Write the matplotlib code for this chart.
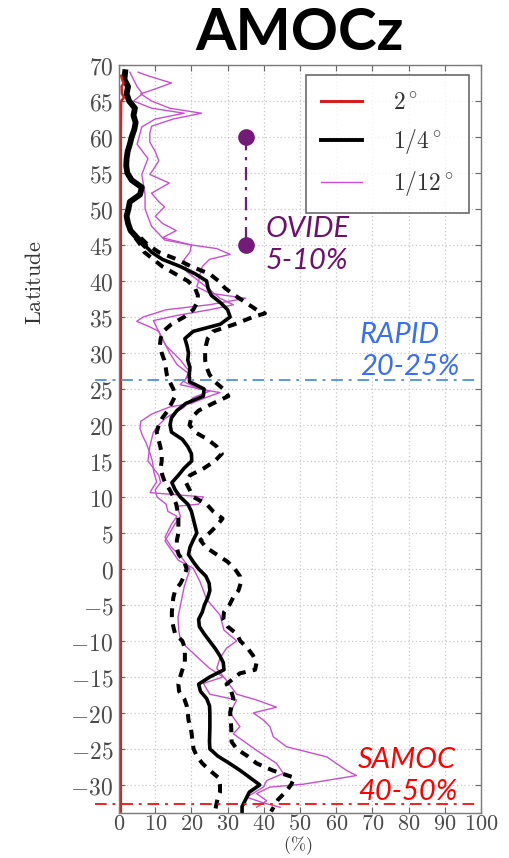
import matplotlib
matplotlib.use("Agg")
import matplotlib.pyplot as plt
from matplotlib.ticker import FuncFormatter

plt.rcParams['mathtext.fontset'] = 'cm'

# ---------------- data ----------------
# 2 degree model (red)
lat_2deg = [68.5, 67.8, 67.5, 67.0, 66.0, 65.5, 65.0, 60.0, 40.0, 0.0, -20.0, -33.7]
val_2deg = [0.6, 1.0, 1.3, 0.7, 0.8, 1.4, 0.6, 0.5, 0.5, 0.5, 0.5, 0.5]

# 1/4 degree model, mean (black solid)
lat_q = [69, 68, 67, 66, 65, 64, 63, 62, 61, 60, 59, 58, 57, 56, 55, 54, 53, 52, 51, 50,
         49, 48, 47, 46, 45, 44, 43, 42, 41, 40, 39, 38, 37, 36, 35, 34, 33, 32, 31, 30,
         29, 28, 27, 26, 25, 24, 23, 22, 21, 20, 19, 18, 17, 16, 15, 14, 13, 12, 11, 10,
         9, 8, 7, 6, 5, 4, 3, 2, 1, 0, -1, -2, -3, -4, -5, -6, -7, -8, -9, -10,
         -11, -12, -13, -14, -15, -16, -17, -18, -19, -20, -22, -24, -25, -26, -27, -28,
         -29, -30, -31, -32, -33, -33.7]
val_q = [1.7, 1.5, 2.5, 2.1, 2.8, 4.4, 4.0, 4.6, 4.2, 3.5, 3.0, 2.4, 2.1, 2.0, 2.3, 3.5, 6.3, 5.8, 3.0, 2.6,
         2.1, 2.5, 3.2, 5.0, 7.0, 9.0, 12.0, 17.0, 21.0, 24.2, 24.6, 25.5, 28.0, 30.0, 30.7, 28.0, 20.5, 18.2, 18.8, 19.2,
         19.0, 19.6, 19.4, 19.5, 23.5, 23.3, 18.5, 16.0, 14.5, 14.1, 14.5, 17.5, 19.0, 20.0, 20.1, 18.0, 16.4, 14.6, 15.5, 16.9,
         19.0, 20.0, 20.5, 21.0, 21.5, 20.5, 19.6, 19.2, 20.5, 22.0, 24.0, 24.9, 25.1, 24.5, 23.6, 23.0, 22.0, 22.2, 23.5, 25.0,
         26.5, 27.8, 28.8, 29.0, 25.1, 22.0, 22.5, 24.2, 25.0, 25.1, 25.1, 25.0, 25.1, 27.3, 30.5, 33.5,
         36.2, 38.9, 36.0, 35.0, 34.0, 34.0]

# 1/4 degree, upper spread (black dashed)
lat_qhi = [46, 45, 44, 43, 42, 41, 40, 39, 38, 37, 36, 35.5, 35, 34, 33, 32, 31, 30, 29, 28,
           27, 26, 25, 24, 23, 22, 21, 20, 19, 18, 17, 16, 15, 14, 13, 12, 11, 10, 9, 8,
           7, 6, 5, 4, 3, 2, 1, 0, -1, -2, -3, -4, -5, -6, -7, -8, -9, -10, -11, -12,
           -13, -14, -14.5, -16, -17, -18, -19, -20, -22, -24, -25, -26, -27, -28, -29, -30,
           -31, -32, -33.7]
val_qhi = [6, 8, 11, 16, 20, 25, 27.5, 29.3, 32, 35, 38, 40.3, 37, 32, 26, 24.5, 24.0, 23.8, 23.8, 24.2,
           25, 26.5, 28.8, 30.2, 26, 22, 20, 19.5, 21, 24.5, 27, 28.4, 26.5, 23.5, 19.6, 18.5, 19.5, 20.5, 24.2, 26,
           28.6, 27, 25, 22.5, 24, 27, 30, 32, 33.4, 33.6, 33, 31.5, 30.5, 29, 28.8, 30, 32.5, 33.5, 35.5, 37,
           38, 37.6, 33.4, 29.7, 31, 31.6, 31.1, 30.7, 31, 31.1, 32.5, 35.5, 38, 42.5, 48.5, 47.5,
           46, 44, 42]

# 1/4 degree, lower spread (black dashed)
lat_qlo = [46, 45, 44, 43, 42, 41, 40, 39, 38, 37, 36, 35, 34, 33, 32, 31, 30, 29, 28, 27,
           26, 25, 24, 23, 22, 21, 20, 19, 18, 17, 16, 15, 14, 13, 12, 11, 10, 9, 8, 7,
           6, 5, 4, 3, 2, 1, 0, -1, -2, -3, -4, -5, -6, -7, -8, -9, -10, -11, -12, -13,
           -14, -15, -16, -17, -18, -19, -20, -21, -22, -23, -24, -25, -26, -27, -28, -29,
           -30, -31, -32, -33.7]
val_qlo = [4.5, 6, 7, 9.5, 12, 15.5, 19, 21, 21.8, 21.6, 20.5, 18, 14.5, 12.2, 11.5, 11.3, 11.8, 12.5, 12.9, 13.2,
           14, 15, 15.5, 14.5, 13.5, 12, 11, 10.4, 10.9, 11.4, 11.8, 11.8, 11.5, 12, 12.7, 14, 15, 15.8, 16.2, 16.4,
           16.4, 16.4, 16, 15.9, 16.5, 18, 18.7, 18, 17, 15.5, 15, 14.8, 14.6, 14.6, 15, 15.5, 17.5, 18.2, 18.2, 18.2,
           17.5, 16.9, 16.4, 16.6, 18, 18.7, 19, 19.2, 19.8, 20.1, 20.3, 20.6, 21.5, 23, 25.1, 27.5,
           27.9, 27.9, 27.2, 26.5]

# 1/12 degree model, member A (magenta)
lat_tA = [69, 68.5, 67.5, 66.5, 66, 65, 64, 63.3, 62.5, 61.5, 60.5, 59.3, 58, 56.7, 55.5, 54.8, 53.6, 52.2, 51, 50.3,
          49, 48, 47, 46, 45, 44.5, 43.7, 43, 42, 41, 40, 39.2, 38.3, 37.6, 36.7, 36, 35, 34.4, 33.6, 33,
          32, 31, 30, 29, 28, 27.5, 26.5, 26, 25, 24.5, 24, 23, 22.5, 21.5, 20.5, 19.5, 18.5, 17.5, 16, 15,
          13.5, 12.1, 11, 10.6, 10, 9, 8.7, 7.3, 6.2, 3.9, 1.2, 0.1, -1.8, -4.2, -6.4, -8.5, -10, -11, -12.4, -13.8,
          -15.5, -17.4, -18.2, -19.2, -20, -21, -21.9, -23.3, -24.7, -26.1, -28, -28.7, -29.9, -30.3, -31.2, -32.2, -33.1]
val_tA = [5.3, 8, 14.5, 9, 6, 9, 14, 22.8, 15, 9, 8.5, 8.5, 10, 11, 9.5, 8.5, 13.9, 9, 11, 12.6,
          10, 12, 15.8, 12, 20, 27, 30.7, 25, 23, 22.4, 22, 21.5, 25.1, 35, 25, 13, 6.7, 4.9, 8.6, 11,
          12, 13, 15, 17, 18.5, 19.5, 18.5, 18, 22, 27.9, 25, 20, 14, 9, 6, 5.8, 6.5, 7.5, 8.6, 9.2,
          9.6, 10.4, 9, 8.6, 23.3, 22, 16, 17, 15.4, 12.7, 16.4, 20.5, 22.4, 24.2, 27.9, 29, 32.5, 29.7, 27.9, 27,
          29.7, 32.5, 38, 43.5, 37.1, 39.9, 41.7, 42.6, 46.3, 57.4, 62.9, 65.6, 50.9, 41.7, 38, 40.8, 38]

# 1/12 degree model, member B (magenta)
lat_tB = [69, 67, 66, 65, 64, 63.3, 62.5, 61.4, 59, 57, 54.8, 52, 50, 47.6, 45.7, 45, 44, 43, 41.3, 39.5,
          37.6, 36.7, 36, 35.2, 34.5, 32.6, 30, 28.4, 27, 25.6, 24.7, 23.8, 22.4, 21, 20, 19, 18, 17, 15, 14,
          13, 12, 11, 10, 9, 8, 7.3, 6.2, 4.4, 3, 1.6, 0, -2.5, -5, -6.7, -8.5, -10, -11, -12.4, -13.8,
          -15, -15.9, -17.4, -18.2, -20, -21.9, -22.9, -25.2, -27, -28.4, -29.4, -30.3, -31.7, -32.5, -33.1]
val_tB = [3, 5, 6.5, 4, 9, 18, 10, 6.3, 5, 8, 6.3, 7.2, 7.2, 9, 12.6, 20, 19.6, 18, 18.7, 23.3,
          27.9, 31.6, 25, 15.9, 9.5, 11.3, 14, 16, 19.6, 16.9, 25, 20.5, 17.8, 13, 11, 9.5, 9, 8.5, 8, 9.5,
          11, 11.5, 10, 10.5, 13, 13.5, 16, 14.5, 12.7, 14.5, 17.3, 19.6, 18, 17, 16.3, 16.5, 17, 19, 22, 25,
          28.8, 23.3, 25.1, 32.5, 30.7, 33.4, 31.6, 38, 43.5, 45.4, 40.8, 39.9, 35.3, 39.9, 44.5]

# observation annotations
ovide_x = 35
ovide_lats = [60, 45]
rapid_lat = 26.3
samoc_lat = -32.6
obs_line_x = [-6.6, 99]

legend_labels = [r'$2^\circ$', r'$1/4^\circ$', r'$1/12^\circ$']
xticks = list(range(0, 101, 10))
yticks = list(range(-30, 71, 5))

# ---------------- figure ----------------
fig = plt.figure(figsize=(5.10, 8.58), dpi=100)
ax = fig.add_axes([119/510, 1-813/858, 362/510, 748/858])

ax.set_xlim(0, 100)
ax.set_ylim(-33.9, 70)

gcol = '#c8c8c8'
ax.grid(True, color=gcol, linestyle=(0, (1, 2)), linewidth=0.9)
ax.set_axisbelow(True)

mag = '#c84fd0'
l3, = ax.plot(val_tA, lat_tA, color=mag, lw=1.0)
ax.plot(val_tB, lat_tB, color=mag, lw=1.0)
ax.plot(val_qhi, lat_qhi, color='black', lw=2.9, linestyle=(0, (2.2, 1.8)))
ax.plot(val_qlo, lat_qlo, color='black', lw=2.9, linestyle=(0, (2.2, 1.8)))
l2, = ax.plot(val_q, lat_q, color='black', lw=2.6)
# the northern part of the 1/4 curve appears heavier (spread collapses onto the mean)
n_top = lat_q.index(45) + 1
ax.plot(val_q[:n_top], lat_q[:n_top], color='black', lw=4.2)
l1, = ax.plot(val_2deg, lat_2deg, color='#d41f1f', lw=1.8)

# OVIDE
purple = '#741a78'
ax.plot([ovide_x, ovide_x], ovide_lats, color=purple, lw=1.6,
        linestyle=(0, (6, 3, 1.5, 3)))
ax.plot([ovide_x, ovide_x], ovide_lats, 'o', color=purple, ms=11, mec=purple)
tkw = dict(fontsize=21, style='italic', family='Lato', va='baseline', ha='left')
ax.text(40.4, 46.1, 'OVIDE', color='#6e106e', **tkw)
ax.text(40.4, 41.6, '5-10%', color='#6e106e', **tkw)

# RAPID
ax.plot(obs_line_x, [rapid_lat, rapid_lat], color='#5b9bd5', lw=1.4,
        linestyle=(0, (6, 3, 1.5, 3)), clip_on=False)
ax.text(66.5, 31.4, 'RAPID', color='#3a6ff0', **tkw)
ax.text(66.5, 27.0, '20-25%', color='#3a6ff0', **tkw)

# SAMOC
ax.plot(obs_line_x, [samoc_lat, samoc_lat], color='#f02020', lw=1.4,
        linestyle=(0, (6, 3, 1.5, 3)), clip_on=False)
ax.text(66.0, -27.6, 'SAMOC', color='#ff0000', **tkw)
ax.text(66.0, -32.1, '40-50%', color='#ff0000', **tkw)

# ticks & labels
ax.set_xticks(xticks)
ax.set_yticks(yticks)
ax.xaxis.set_major_formatter(FuncFormatter(lambda v, p: r'$%d$' % v))
ax.yaxis.set_major_formatter(FuncFormatter(lambda v, p: r'$%d$' % v))
ax.tick_params(axis='both', direction='in', length=4, width=0.8, color='#666666',
               labelsize=17, labelcolor='#4a4a4a', top=True, right=True, pad=4)
ax.tick_params(axis='x', pad=0.5, labelsize=16)
for s in ax.spines.values():
    s.set_color('#7a7a7a')
    s.set_linewidth(1.0)

fig.text(298/510, 1-857/858, r'$(\%)$', fontsize=13, color='#333333',
         ha='center', va='bottom')
fig.text(35/510, 1-283/858, r'$\mathrm{Latitude}$', fontsize=16, color='#333333',
         ha='center', va='center', rotation=90)

leg = ax.legend([l1, l2, l3], legend_labels, loc='upper right',
                bbox_to_anchor=(0.966, 0.987), borderaxespad=0, fontsize=17, frameon=True,
                fancybox=False, edgecolor='#444444', handlelength=1.75,
                handletextpad=1.3, borderpad=0.65, labelspacing=0.55, labelcolor='#333333')
leg.get_frame().set_linewidth(1.2)
leg.get_lines()[0].set_linewidth(2.2)
leg.get_lines()[1].set_linewidth(2.8)
leg.get_lines()[2].set_linewidth(1.0)

fig.text(300/510, 1-33/858, 'AMOCz', fontsize=42, fontweight='bold', family='Lato',
         ha='center', va='center', color='black')

fig.savefig('out.png', dpi=100)
